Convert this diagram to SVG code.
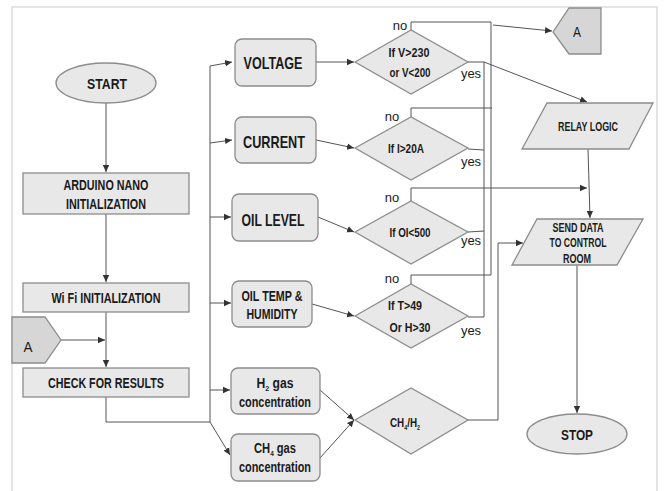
<svg xmlns="http://www.w3.org/2000/svg" width="664" height="491" viewBox="0 0 664 491">
<style>
.n{fill:#e8e8e8;stroke:#8c8c8c;stroke-width:1.3}
.c{fill:#d6d6d6;stroke:#8c8c8c;stroke-width:1.3}
.t{font-family:"Liberation Sans",Arial,sans-serif;font-weight:bold;fill:#1a1a1a;text-anchor:middle}
.r{font-family:"Liberation Sans",Arial,sans-serif;fill:#1a1a1a;text-anchor:middle}
.l{fill:none;stroke:#555;stroke-width:1}
</style>
<defs>
<marker id="ah" markerUnits="userSpaceOnUse" markerWidth="8" markerHeight="8" refX="7" refY="4" orient="auto">
<path d="M0,0.8 L7,4 L0,7.2 Z" fill="#333"/>
</marker>
</defs>
<rect x="0" y="0" width="664" height="491" fill="#fff"/>
<path d="M12 491 V7 H657 V491" fill="none" stroke="#dcdcdc" stroke-width="1.5"/>

<g id="connectors">
<path class="l" d="M106 103 V172" marker-end="url(#ah)"/>
<path class="l" d="M106 214 V282" marker-end="url(#ah)"/>
<path class="l" d="M106 312 V367" marker-end="url(#ah)"/>
<path class="l" d="M61 340 H105" marker-end="url(#ah)"/>
<path class="l" d="M106 397 V422 H210 V66"/>
<path class="l" d="M210 66 L232 62" marker-end="url(#ah)"/>
<path class="l" d="M210 143 L232 140" marker-end="url(#ah)"/>
<path class="l" d="M210 217 H231" marker-end="url(#ah)"/>
<path class="l" d="M210 303 H231" marker-end="url(#ah)"/>
<path class="l" d="M210 390 H230" marker-end="url(#ah)"/>
<path class="l" d="M210 422 L230 455" marker-end="url(#ah)"/>
<path class="l" d="M316 62 H354" marker-end="url(#ah)"/>
<path class="l" d="M316 140 L354 148" marker-end="url(#ah)"/>
<path class="l" d="M318 217 L354 232" marker-end="url(#ah)"/>
<path class="l" d="M312 304 L354 316" marker-end="url(#ah)"/>
<path class="l" d="M320 390 L354 420" marker-end="url(#ah)"/>
<path class="l" d="M320 458 L354 420" marker-end="url(#ah)"/>
<path class="l" d="M411 30 V22 H491 V275 H411 V284"/>
<path class="l" d="M411 117 V108 H492"/>
<path class="l" d="M411 201 V188 H587" marker-end="url(#ah)"/>
<path class="l" d="M493 25 L552 31" marker-end="url(#ah)"/>
<path class="l" d="M468 62 H484 V317 H468"/>
<path class="l" d="M468 149 L484 150"/>
<path class="l" d="M468 232 L484 231"/>
<path class="l" d="M484 62 L587 102" marker-end="url(#ah)"/>
<path class="l" d="M588 149 L590 218" marker-end="url(#ah)"/>
<path class="l" d="M468 420 H498 V243 H523" marker-end="url(#ah)"/>
<path class="l" d="M577 265 V413" marker-end="url(#ah)"/>
</g>

<g id="start">
<ellipse class="n" cx="106" cy="83" rx="50" ry="20"/>
<text class="t" x="107" y="89" font-size="15.5" textLength="40" lengthAdjust="spacingAndGlyphs">START</text>
</g>
<g id="arduino">
<rect class="n" x="23" y="173" width="166" height="41"/>
<text class="t" x="106" y="190" font-size="14" textLength="85" lengthAdjust="spacingAndGlyphs">ARDUINO NANO</text>
<text class="t" x="106" y="209" font-size="14" textLength="80" lengthAdjust="spacingAndGlyphs">INITIALIZATION</text>
</g>
<g id="wifi">
<rect class="n" x="23" y="283" width="166" height="29"/>
<text class="t" x="106" y="303" font-size="14" textLength="109" lengthAdjust="spacingAndGlyphs">Wi Fi INITIALIZATION</text>
</g>
<g id="a-in">
<path class="c" d="M12 317 H45 L61 340 L45 363 H12 Z"/>
<text class="r" x="28" y="352" font-size="14.5" textLength="9" lengthAdjust="spacingAndGlyphs">A</text>
</g>
<g id="check">
<rect class="n" x="23" y="368" width="166" height="29"/>
<text class="t" x="106" y="388" font-size="14" textLength="116" lengthAdjust="spacingAndGlyphs">CHECK FOR RESULTS</text>
</g>

<g id="voltage">
<rect class="n" x="235" y="39" width="81" height="47" rx="7"/>
<text class="t" x="273" y="69" font-size="17" textLength="59" lengthAdjust="spacingAndGlyphs">VOLTAGE</text>
</g>
<g id="current">
<rect class="n" x="235" y="117" width="81" height="46" rx="7"/>
<text class="t" x="274" y="148" font-size="17" textLength="62" lengthAdjust="spacingAndGlyphs">CURRENT</text>
</g>
<g id="oil-level">
<rect class="n" x="232" y="194" width="86" height="47" rx="7"/>
<text class="t" x="273" y="226" font-size="17" textLength="63" lengthAdjust="spacingAndGlyphs">OIL LEVEL</text>
</g>
<g id="oil-temp">
<rect class="n" x="232" y="281" width="80" height="46" rx="7"/>
<text class="t" x="272" y="301" font-size="14" textLength="61" lengthAdjust="spacingAndGlyphs">OIL TEMP &amp;</text>
<text class="t" x="272" y="319" font-size="14" textLength="51" lengthAdjust="spacingAndGlyphs">HUMIDITY</text>
</g>
<g id="h2">
<rect class="n" x="231" y="368" width="89" height="46" rx="7"/>
<text class="t" x="275" y="388" font-size="14" textLength="37" lengthAdjust="spacingAndGlyphs">H<tspan font-size="8" dy="3">2</tspan><tspan dy="-3"> gas</tspan></text>
<text class="t" x="275" y="407" font-size="14" textLength="72" lengthAdjust="spacingAndGlyphs">concentration</text>
</g>
<g id="ch4">
<rect class="n" x="231" y="434" width="89" height="47" rx="7"/>
<text class="t" x="275" y="453" font-size="14" textLength="42" lengthAdjust="spacingAndGlyphs">CH<tspan font-size="8" dy="3">4</tspan><tspan dy="-3"> gas</tspan></text>
<text class="t" x="275" y="472" font-size="14" textLength="72" lengthAdjust="spacingAndGlyphs">concentration</text>
</g>

<g id="d-voltage">
<polygon class="n" points="355,62 411,30 468,62 411,94"/>
<text class="t" x="409" y="57" font-size="13" textLength="41" lengthAdjust="spacingAndGlyphs">If V&gt;230</text>
<text class="t" x="410" y="77" font-size="13" textLength="41" lengthAdjust="spacingAndGlyphs">or V&lt;200</text>
<text class="r" x="400" y="30" font-size="13">no</text>
<text class="r" x="471" y="78" font-size="13">yes</text>
</g>
<g id="d-current">
<polygon class="n" points="355,148 411,117 468,148 411,180"/>
<text class="t" x="406" y="153" font-size="13" textLength="36" lengthAdjust="spacingAndGlyphs">If I&gt;20A</text>
<text class="r" x="392" y="121" font-size="13">no</text>
<text class="r" x="471" y="166" font-size="13">yes</text>
</g>
<g id="d-oil-level">
<polygon class="n" points="355,232 411,201 468,232 411,264"/>
<text class="t" x="410" y="237" font-size="13" textLength="41" lengthAdjust="spacingAndGlyphs">If OI&lt;500</text>
<text class="r" x="392" y="202" font-size="13">no</text>
<text class="r" x="471" y="245" font-size="13">yes</text>
</g>
<g id="d-oil-temp">
<polygon class="n" points="355,316 411,284 468,316 411,348"/>
<text class="t" x="405" y="310" font-size="13" textLength="34" lengthAdjust="spacingAndGlyphs">If T&gt;49</text>
<text class="t" x="410" y="332" font-size="13" textLength="41" lengthAdjust="spacingAndGlyphs">Or H&gt;30</text>
<text class="r" x="392" y="283" font-size="13">no</text>
<text class="r" x="471" y="335" font-size="13">yes</text>
</g>
<g id="d-ratio">
<polygon class="n" points="355,420 411,388 468,420 411,454"/>
<text class="t" x="405" y="427" font-size="13" textLength="30" lengthAdjust="spacingAndGlyphs">CH<tspan font-size="7" dy="3">4</tspan><tspan dy="-3">/H</tspan><tspan font-size="7" dy="3">2</tspan></text>
</g>

<g id="a-out">
<path class="c" d="M553 32 L569 8 H601 V54 H569 Z"/>
<text class="r" x="577" y="37" font-size="14.5" textLength="8" lengthAdjust="spacingAndGlyphs">A</text>
</g>
<g id="relay">
<polygon class="n" points="547,103 653,103 629,149 522,149"/>
<text class="t" x="588" y="131" font-size="12.5" font-weight="600" textLength="60" lengthAdjust="spacingAndGlyphs">RELAY LOGIC</text>
</g>
<g id="send">
<polygon class="n" points="537,219 643,219 617,265 512,265"/>
<text class="t" x="578" y="232" font-size="12.5" textLength="51" lengthAdjust="spacingAndGlyphs">SEND DATA</text>
<text class="t" x="578" y="247" font-size="12.5" textLength="57" lengthAdjust="spacingAndGlyphs">TO CONTROL</text>
<text class="t" x="577" y="263" font-size="12.5" textLength="28" lengthAdjust="spacingAndGlyphs">ROOM</text>
</g>
<g id="stop">
<ellipse class="n" cx="577" cy="434" rx="50" ry="20"/>
<text class="t" x="577" y="440" font-size="15.5" textLength="32" lengthAdjust="spacingAndGlyphs">STOP</text>
</g>
</svg>
